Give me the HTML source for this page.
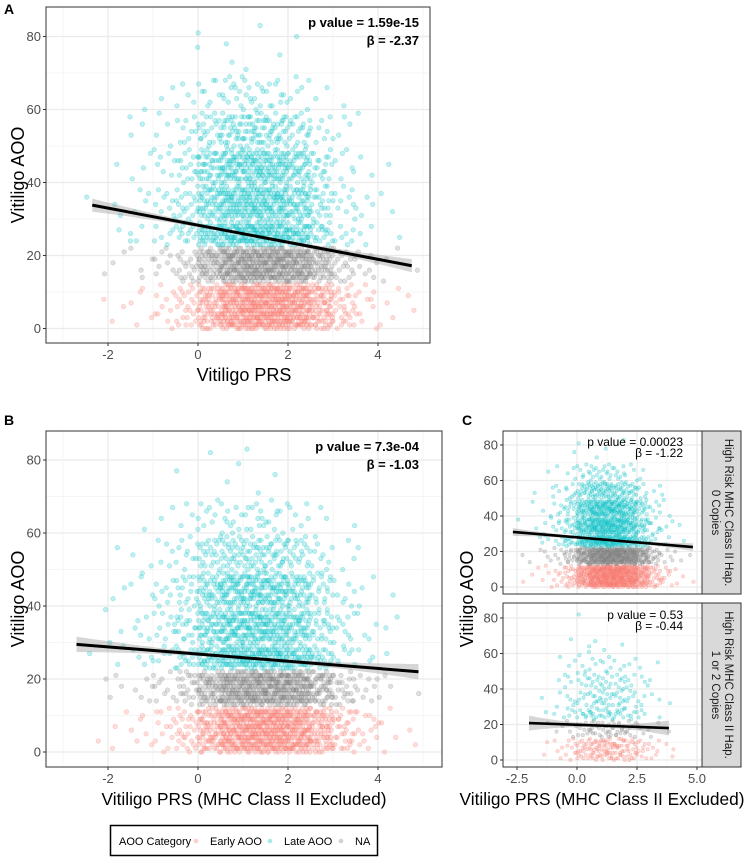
<!DOCTYPE html>
<html><head><meta charset="utf-8"><style>
body{margin:0;background:#fff}
svg{display:block;font-family:"Liberation Sans",Arial,sans-serif}
</style></head><body>
<svg id="fig" width="747" height="857" viewBox="0 0 747 857" xmlns="http://www.w3.org/2000/svg"></svg>
<script>
// ---------- data ----------
const categories = ["Early AOO","Late AOO","NA"];
const colors = {"Early AOO":"#F8766D","Late AOO":"#00BFC4","NA":"#7f7f7f"};
const binsAB = [-2.25,-1.75,-1.25,-0.75,-0.25,0.25,0.75,1.25,1.75,2.25,2.75,3.25,3.75,4.25,4.75];
const bandEarly=[0,12], bandNA=[13,22];
const lateBands=[[23,29],[30,39],[40,49],[50,59],[60,69],[70,84]];
// panel A counts per x-bin
const A_early=[1,2,5,10,25,70,125,150,150,125,75,30,10,4,2];
const A_na=[1,2,4,8,20,60,100,115,115,100,55,20,7,3,1];
const A_late=[[0,2,3,6,14,38,55,60,55,42,20,7,3,1,0],[1,2,4,8,18,48,66,72,66,50,24,9,4,2,0],[0,1,3,7,15,40,58,62,58,42,18,6,2,1,0],[0,1,2,4,9,22,32,34,30,20,8,3,1,0,0],[0,0,1,2,4,8,12,12,10,6,2,1,0,0,0],[0,0,0,0,1,1,2,2,1,1,0,0,0,0,0]];
// panel B counts
const B_early=[1,3,6,12,28,72,122,145,145,122,75,32,12,5,2];
const B_na=[1,3,5,9,22,60,98,110,110,98,55,22,8,3,1];
const B_late=[[1,2,4,7,15,38,52,58,54,42,22,8,3,1,0],[1,2,5,9,19,48,64,70,64,50,25,10,4,2,0],[0,2,4,8,16,40,56,60,56,42,19,7,3,1,0],[0,1,2,5,10,22,30,32,28,20,9,3,1,0,0],[0,0,1,2,4,8,11,11,9,6,2,1,0,0,0],[0,0,0,0,1,1,2,2,1,0,0,0,0,0,0]];
const binsC = [-2.25,-1.75,-1.25,-0.75,-0.25,0.25,0.75,1.25,1.75,2.25,2.75,3.25,3.75,4.25,4.75];
const C0_early=[1,2,4,8,20,55,95,110,110,95,55,22,8,3,1];
const C0_na=[1,2,3,6,15,45,75,85,85,75,42,15,5,2,1];
const C0_late=[[0,1,3,5,11,28,40,44,40,30,15,5,2,1,0],[1,1,3,6,14,36,50,54,50,38,18,7,3,1,0],[0,1,2,5,11,30,44,46,44,32,14,5,2,0,0],[0,1,1,3,7,16,24,25,22,15,6,2,1,0,0],[0,0,1,1,3,6,9,9,7,4,2,0,0,0,0],[0,0,0,0,1,1,1,1,1,0,0,0,0,0,0]];
const C1_early=[0,0,2,4,9,18,24,26,24,18,11,5,2,1,0];
const C1_na=[0,0,1,2,4,9,12,13,12,9,4,2,1,0,0];
const C1_late=[[0,0,1,2,4,7,9,9,8,6,3,1,0,0,0],[0,0,1,2,4,7,9,10,9,6,3,2,1,0,0],[0,0,0,2,3,6,8,8,7,5,3,1,0,0,0],[0,0,0,1,2,3,4,4,3,2,1,1,0,0,0],[0,0,0,0,1,1,2,1,1,0,0,0,0,0,0],[0,0,0,0,0,1,0,0,0,0,0,0,0,0,0]];
const regA_x=[-2.35,4.75], regA_y=[33.8,17.2], regA_se=[0.4,1.8];
const regB_x=[-2.7,4.9],  regB_y=[29.5,22.0], regB_se=[0.4,2.1];
const regC0_x=[-2.67,4.83], regC0_y=[31.0,22.5], regC0_se=[0.5,2.2];
const regC1_x=[-2.0,3.83], regC1_y=[20.8,18.0], regC1_se=[1.0,4.2];
const ticksY=[0,20,40,60,80];
const ticksAB_X=[-2,0,2,4];
const ticksC_X=[-2.5,0,2.5,5];
const ticksC_lab=["-2.5","0.0","2.5","5.0"];

// ---------- helpers ----------
const NS="http://www.w3.org/2000/svg";
const svg=document.getElementById('fig');
function el(tag,attrs,parent){const e=document.createElementNS(NS,tag);for(const k in attrs)e.setAttribute(k,attrs[k]);(parent||svg).appendChild(e);return e;}
function halton(i,b){let f=1,r=0;while(i>0){f/=b;r+=f*(i%b);i=Math.floor(i/b);}return r;}
function makePanel(p){p.sx=v=>p.x0px+(v-p.xzero)*p.kx;p.sy=v=>p.y0px-v*p.ky;return p;}
function drawFrame(p,name,xticks,xlabels,xminor,yminor,showXLabels){
  const g=el('g',{});
  
  
  el('rect',{x:p.L,y:p.T,width:p.R-p.L,height:p.B-p.T,fill:'#fff'},g);
  yminor.forEach(v=>{el('line',{x1:p.L,x2:p.R,y1:p.sy(v),y2:p.sy(v),stroke:'#f2f2f2','stroke-width':0.7},g);});
  xminor.forEach(v=>{el('line',{y1:p.T,y2:p.B,x1:p.sx(v),x2:p.sx(v),stroke:'#f2f2f2','stroke-width':0.7},g);});
  ticksY.forEach(v=>{el('line',{x1:p.L,x2:p.R,y1:p.sy(v),y2:p.sy(v),stroke:'#ebebeb','stroke-width':1.3},g);});
  xticks.forEach(v=>{el('line',{y1:p.T,y2:p.B,x1:p.sx(v),x2:p.sx(v),stroke:'#ebebeb','stroke-width':1.3},g);});
  ticksY.forEach(v=>{
    el('line',{x1:p.L-3,x2:p.L,y1:p.sy(v),y2:p.sy(v),stroke:'#333','stroke-width':1});
    const t=el('text',{x:p.L-5,y:p.sy(v)+4.5,'text-anchor':'end','font-size':13,fill:'#4d4d4d'});
    t.textContent=v;
    
    
  });
  if(showXLabels){
    xticks.forEach((v,i)=>{
      el('line',{y1:p.B,y2:p.B+3,x1:p.sx(v),x2:p.sx(v),stroke:'#333','stroke-width':1});
      const t=el('text',{x:p.sx(v),y:p.B+16,'text-anchor':'middle','font-size':13,fill:'#4d4d4d'});
      t.textContent=xlabels[i];
      
      
    });
  }
  return g;
}
function drawPoints(p,bins,binW,early,na,late,r,seed){
  const g=el('g',{});
  
  
  let idx=seed;
  function band(counts,lohi,cat){
    counts.forEach((n,bi)=>{
      for(let k=0;k<n;k++){
        idx++;
        const x=bins[bi]-binW/2+halton(idx,2)*binW;
        const y=Math.round(lohi[0]+halton(idx,3)*(lohi[1]-lohi[0]));
        const c=el('circle',{cx:p.sx(x).toFixed(1),cy:p.sy(y).toFixed(1),r:r,fill:colors[cat],'fill-opacity':0.25,stroke:colors[cat],'stroke-opacity':0.32,'stroke-width':0.6},g);
        
        
      }
    });
  }
  band(early,bandEarly,"Early AOO");
  band(na,bandNA,"NA");
  late.forEach((cts,i)=>band(cts,lateBands[i],"Late AOO"));
}
function drawReg(p,rx,ry,se,lw){
  const g=el('g',{});
  
  
  const xm=(rx[0]+rx[1])/2, h=(rx[1]-rx[0])/2;
  const f=x=>ry[0]+(ry[1]-ry[0])*(x-rx[0])/(rx[1]-rx[0]);
  const hw=x=>se[0]+(se[1]-se[0])*Math.pow((x-xm)/h,2);
  let up=[],dn=[];
  for(let i=0;i<=40;i++){const x=rx[0]+(rx[1]-rx[0])*i/40;up.push(p.sx(x).toFixed(1)+','+p.sy(f(x)+hw(x)).toFixed(1));dn.unshift(p.sx(x).toFixed(1)+','+p.sy(f(x)-hw(x)).toFixed(1));}
  const band=el('polygon',{points:up.concat(dn).join(' '),fill:'#999','fill-opacity':0.4},g);
  
  
  el('line',{x1:p.sx(rx[0]),y1:p.sy(ry[0]),x2:p.sx(rx[1]),y2:p.sy(ry[1]),stroke:'#000','stroke-width':lw},g);
}
function border(p){el('rect',{x:p.L,y:p.T,width:p.R-p.L,height:p.B-p.T,fill:'none',stroke:'#333','stroke-width':1});}
function txt(x,y,s,attrs,name){const t=el('text',Object.assign({x:x,y:y},attrs));t.textContent=s;return t;}

// ---------- Panel A ----------
const PA=makePanel({L:46,R:430,T:7,B:343,x0px:198,xzero:0,kx:45,y0px:328.5,ky:3.65});
drawFrame(PA,'panel-a',ticksAB_X,["-2","0","2","4"],[-3,-1,1,3,5],[10,30,50,70],true);
drawPoints(PA,binsAB,0.5,A_early,A_na,A_late,2.3,10);
drawReg(PA,regA_x,regA_y,regA_se,3);
border(PA);
txt(419,27,"p value = 1.59e-15",{'text-anchor':'end','font-size':13,'font-weight':'bold',fill:'#000'},'p-value-a');
txt(419,45,"β = -2.37",{'text-anchor':'end','font-size':13,'font-weight':'bold',fill:'#000'},'beta-a');
txt(4,14,"A",{'font-size':14,'font-weight':'bold'},'panel-label-a');
txt(0,0,"Vitiligo AOO",{transform:'translate(24,175) rotate(-90)','text-anchor':'middle','font-size':18,fill:'#000'},'y-axis-title-a');
txt(244,381,"Vitiligo PRS",{'text-anchor':'middle','font-size':18,fill:'#000'},'x-axis-title-a');

// ---------- Panel B ----------
const PB=makePanel({L:46,R:442,T:431,B:767,x0px:198,xzero:0,kx:45,y0px:752,ky:3.65});
drawFrame(PB,'panel-b',ticksAB_X,["-2","0","2","4"],[-3,-1,1,3,5],[10,30,50,70],true);
drawPoints(PB,binsAB,0.5,B_early,B_na,B_late,2.3,5000);
drawReg(PB,regB_x,regB_y,regB_se,3);
border(PB);
txt(419,451,"p value = 7.3e-04",{'text-anchor':'end','font-size':13,'font-weight':'bold',fill:'#000'},'p-value-b');
txt(419,469,"β = -1.03",{'text-anchor':'end','font-size':13,'font-weight':'bold',fill:'#000'},'beta-b');
txt(4,425,"B",{'font-size':14,'font-weight':'bold'},'panel-label-b');
txt(0,0,"Vitiligo AOO",{transform:'translate(24,599) rotate(-90)','text-anchor':'middle','font-size':18,fill:'#000'},'y-axis-title-b');
txt(244,805,"Vitiligo PRS (MHC Class II Excluded)",{'text-anchor':'middle','font-size':17.3,fill:'#000'},'x-axis-title-b');

// ---------- Panel C ----------
const PC0=makePanel({L:503,R:702,T:431,B:594,x0px:577,xzero:0,kx:24,y0px:587,ky:1.775});
const PC1=makePanel({L:503,R:702,T:603,B:767,x0px:577,xzero:0,kx:24,y0px:760,ky:1.775});
drawFrame(PC0,'panel-c-top',ticksC_X,ticksC_lab,[-1.25,1.25,3.75],[10,30,50,70],false);
drawPoints(PC0,binsC,0.5,C0_early,C0_na,C0_late,1.7,20000);
drawReg(PC0,regC0_x,regC0_y,regC0_se,2.6);
border(PC0);
drawFrame(PC1,'panel-c-bottom',ticksC_X,ticksC_lab,[-1.25,1.25,3.75],[10,30,50,70],true);
drawPoints(PC1,binsC,0.5,C1_early,C1_na,C1_late,1.7,40000);
drawReg(PC1,regC1_x,regC1_y,regC1_se,2.6);
border(PC1);
txt(683,446,"p value = 0.00023",{'text-anchor':'end','font-size':12,fill:'#000'},'p-value-c-top');
txt(683,457,"β = -1.22",{'text-anchor':'end','font-size':12,fill:'#000'},'beta-c-top');
txt(683,619,"p value = 0.53",{'text-anchor':'end','font-size':12,fill:'#000'},'p-value-c-bottom');
txt(683,630,"β = -0.44",{'text-anchor':'end','font-size':12,fill:'#000'},'beta-c-bottom');
[[431,594,"0 Copies"],[603,767,"1 or 2 Copies"]].forEach(([t,b,s])=>{
  const r=el('rect',{x:702,y:t,width:39,height:b-t,fill:'#d9d9d9',stroke:'#333','stroke-width':1});
  
  
  const cy=(t+b)/2;
  txt(0,0,"High Risk MHC Class II Hap.",{transform:`translate(725,${cy}) rotate(90)`,'text-anchor':'middle','font-size':11.5,fill:'#1a1a1a'},'facet-strip-label');
  txt(0,0,s,{transform:`translate(712,${cy}) rotate(90)`,'text-anchor':'middle','font-size':11.5,fill:'#1a1a1a'},'facet-strip-label');
});
txt(462,425,"C",{'font-size':14,'font-weight':'bold'},'panel-label-c');
txt(0,0,"Vitiligo AOO",{transform:'translate(473,599) rotate(-90)','text-anchor':'middle','font-size':18,fill:'#000'},'y-axis-title-c');
txt(602,805,"Vitiligo PRS (MHC Class II Excluded)",{'text-anchor':'middle','font-size':17.3,fill:'#000'},'x-axis-title-c');

// ---------- Legend ----------
const lg=el('g',{});


el('rect',{x:110.5,y:825.5,width:267,height:30,fill:'#fff',stroke:'#000','stroke-width':1.5},lg);
txt(119,845,"AOO Category",{'font-size':11,fill:'#000'},'legend-title');
const legX=[[196,210],[270,284],[341,355]];
categories.forEach((c,i)=>{
  const d=el('circle',{cx:legX[i][0],cy:841,r:2.3,fill:colors[c],'fill-opacity':0.35},lg);
  
  
  txt(legX[i][1],845,c,{'font-size':11,fill:'#000'},'legend-entry');
});
</script>
</body></html>
